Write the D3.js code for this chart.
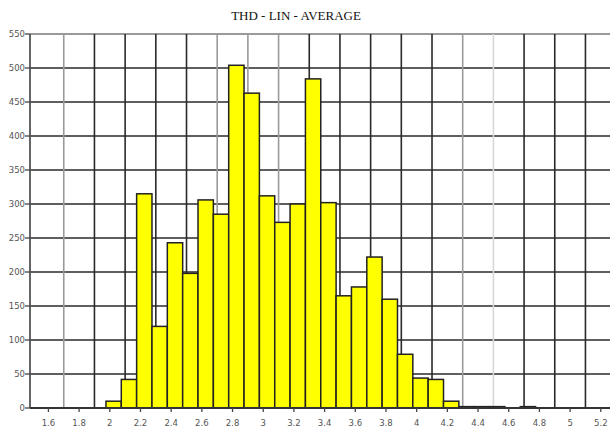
<!DOCTYPE html>
<html><head><meta charset="utf-8">
<script src="https://cdn.jsdelivr.net/npm/d3@7"></script>
<style>body{margin:0;background:#fff}svg{display:block}</style>
</head><body>
<script>
// Data
const binStarts = [1.975,2.075,2.175,2.275,2.375,2.475,2.575,2.675,2.775,2.875,2.975,3.075,3.175,3.275,3.375,3.475,3.575,3.675,3.775,3.875,3.975,4.075,4.175,4.275,4.375,4.475,4.575,4.675];
const counts    = [10,42,315,120,243,198,306,285,504,463,312,273,300,484,302,165,178,222,160,79,44,42,10,2,2,2,0,2];
const binWidth = 0.1;
const xTickValues = [1.6,1.8,2.0,2.2,2.4,2.6,2.8,3.0,3.2,3.4,3.6,3.8,4.0,4.2,4.4,4.6,4.8,5.0,5.2];
const xTickLabels = ["1.6","1.8","2","2.2","2.4","2.6","2.8","3","3.2","3.4","3.6","3.8","4","4.2","4.4","4.6","4.8","5","5.2"];
const xGridValues = [1.7,1.9,2.1,2.3,2.5,2.7,2.9,3.1,3.3,3.5,3.7,3.9,4.1,4.3,4.5,4.7,4.9,5.1];
const lightGrid = [1.7,2.7,2.9,3.1,4.3,4.5];
const yTickValues = [0,50,100,150,200,250,300,350,400,450,500,550];
const title = "THD - LIN - AVERAGE";

const W = 610, H = 431;
const svg = d3.select("body").append("svg").attr("width", W).attr("height", H);
const x = d3.scaleLinear().domain([1.48, 5.26]).range([30, 610]);
const y = d3.scaleLinear().domain([0, 550]).range([408, 34]);

// title
svg.append("text").attr("x", 296).attr("y", 20).attr("text-anchor", "middle")
  .attr("font-family", "Liberation Serif, Times New Roman, serif").attr("font-size", 13)
  .attr("fill", "#111").text(title);

// horizontal grid
svg.append("g").selectAll("line").data(yTickValues.filter(v => v > 0)).join("line")
  .attr("x1", 30).attr("x2", 610)
  .attr("y1", d => y(d)).attr("y2", d => y(d))
  .attr("stroke", d => d === 550 ? "#9a9a9a" : "#2a2a2a")
  .attr("stroke-width", d => d === 550 ? 2.2 : 1.6);

// vertical grid
svg.append("g").selectAll("line").data(xGridValues).join("line")
  .attr("x1", d => x(d)).attr("x2", d => x(d))
  .attr("y1", y(550)).attr("y2", y(0))
  .attr("stroke", d => lightGrid.some(v => Math.abs(v - d) < 1e-6) ? (Math.abs(d-4.5)<1e-6 ? "#d8d8d8" : "#9a9a9a") : "#2a2a2a")
  .attr("stroke-width", 1.6);

// bars
const data = binStarts.map((b, i) => ({b, c: counts[i]}));
svg.append("g").selectAll("rect").data(data.filter(d => d.c > 0)).join("rect")
  .attr("x", d => x(d.b))
  .attr("width", d => x(d.b + binWidth) - x(d.b))
  .attr("y", d => y(d.c))
  .attr("height", d => y(0) - y(d.c))
  .attr("fill", "#ffff00")
  .attr("stroke", "#222")
  .attr("stroke-width", 1.5);

// left axis
svg.append("line").attr("x1", 30).attr("x2", 30).attr("y1", y(550)).attr("y2", y(0))
  .attr("stroke", "#555").attr("stroke-width", 1.8);
// bottom axis
svg.append("line").attr("x1", 30).attr("x2", 610).attr("y1", y(0)).attr("y2", y(0))
  .attr("stroke", "#333").attr("stroke-width", 1.8);

// y ticks and labels
const yg = svg.append("g");
yg.selectAll("line").data(yTickValues).join("line")
  .attr("x1", 25).attr("x2", 30).attr("y1", d => y(d)).attr("y2", d => y(d))
  .attr("stroke", "#444").attr("stroke-width", 1.3);
yg.selectAll("text").data(yTickValues).join("text")
  .attr("x", 25).attr("y", d => y(d) + 3.2).attr("text-anchor", "end")
  .attr("font-family", "DejaVu Sans, Verdana, sans-serif").attr("font-size", 8.5)
  .attr("fill", "#555").text(d => d);

// x ticks and labels
const xg = svg.append("g");
xg.selectAll("line").data(xTickValues).join("line")
  .attr("x1", d => x(d)).attr("x2", d => x(d)).attr("y1", y(0)).attr("y2", y(0) + 4)
  .attr("stroke", "#444").attr("stroke-width", 1.3);
xg.selectAll("text").data(xTickValues).join("text")
  .attr("x", d => x(d)).attr("y", 426).attr("text-anchor", "middle")
  .attr("font-family", "DejaVu Sans, Verdana, sans-serif").attr("font-size", 8.5)
  .attr("fill", "#555").text((d, i) => xTickLabels[i]);
</script>
</body></html>
